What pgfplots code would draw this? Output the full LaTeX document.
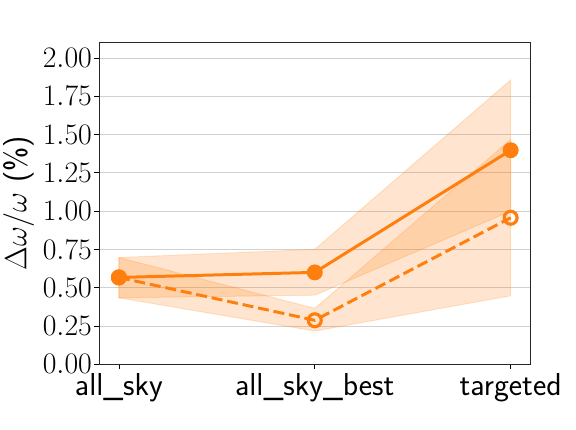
\RequirePackage{fix-cm}
\documentclass[border=0pt]{standalone}
\usepackage{pgfplots}
\pgfplotsset{compat=1.18}
\definecolor{tabor}{RGB}{255,127,14}
\begin{document}
\begin{tikzpicture}
\begin{axis}[
  scale only axis,
  width=433bp, height=323bp,
  xmin=-0.1, xmax=2.1,
  ymin=0, ymax=2.1,
  xtick={0,1,2},
  xticklabels={all\_sky, all\_sky\_best, targeted},
  ytick={0,0.25,0.5,0.75,1,1.25,1.5,1.75,2},
  yticklabel style={/pgf/number format/fixed, /pgf/number format/fixed zerofill, /pgf/number format/precision=2, xshift=1bp},
  tick label style={font=\fontsize{30}{35}\selectfont},
  xticklabel style={font=\fontsize{32}{37}\selectfont\sffamily, yshift=-1bp},
  ylabel={$\Delta\omega/\omega$ \textsf{(\%)}},
  ylabel style={font=\fontsize{31}{36}\selectfont, yshift=2bp},
  ymajorgrids,
  major grid style={color=black!18, line width=0.8bp},
  tick align=outside,
  major tick length=5bp,
  tick style={black, line width=0.8bp},
  axis line style={line width=0.8bp, black!85},
  xtick pos=bottom, ytick pos=left,
  clip=false,
]
% bands
\addplot[fill=tabor, fill opacity=0.2, draw=tabor, draw opacity=0.2, line width=1bp]
  coordinates {(0,0.697) (1,0.750) (2,1.857) (2,1.000) (1,0.451) (0,0.434)} -- cycle;
\addplot[fill=tabor, fill opacity=0.2, draw=tabor, draw opacity=0.2, line width=1bp]
  coordinates {(0,0.697) (1,0.365) (2,1.468) (2,0.447) (1,0.217) (0,0.434)} -- cycle;
% solid
\addplot[tabor, line width=3bp, mark=*, mark size=7.5bp, mark options={solid, fill=tabor, draw=tabor, line width=1bp}]
  coordinates {(0,0.567) (1,0.600) (2,1.398)};
% dashed
\addplot[tabor, line width=3bp, dash pattern=on 11.1bp off 4.8bp, mark=o, mark size=6.5bp, mark options={solid, line width=3.2bp, draw=tabor, fill=none}]
  coordinates {(0,0.567) (1,0.287) (2,0.957)};
\end{axis}
\path[use as bounding box] ([xshift=-97bp,yshift=-66bp]current axis.south west) rectangle ([xshift=46bp,yshift=43bp]current axis.north east);
\end{tikzpicture}
\end{document}
